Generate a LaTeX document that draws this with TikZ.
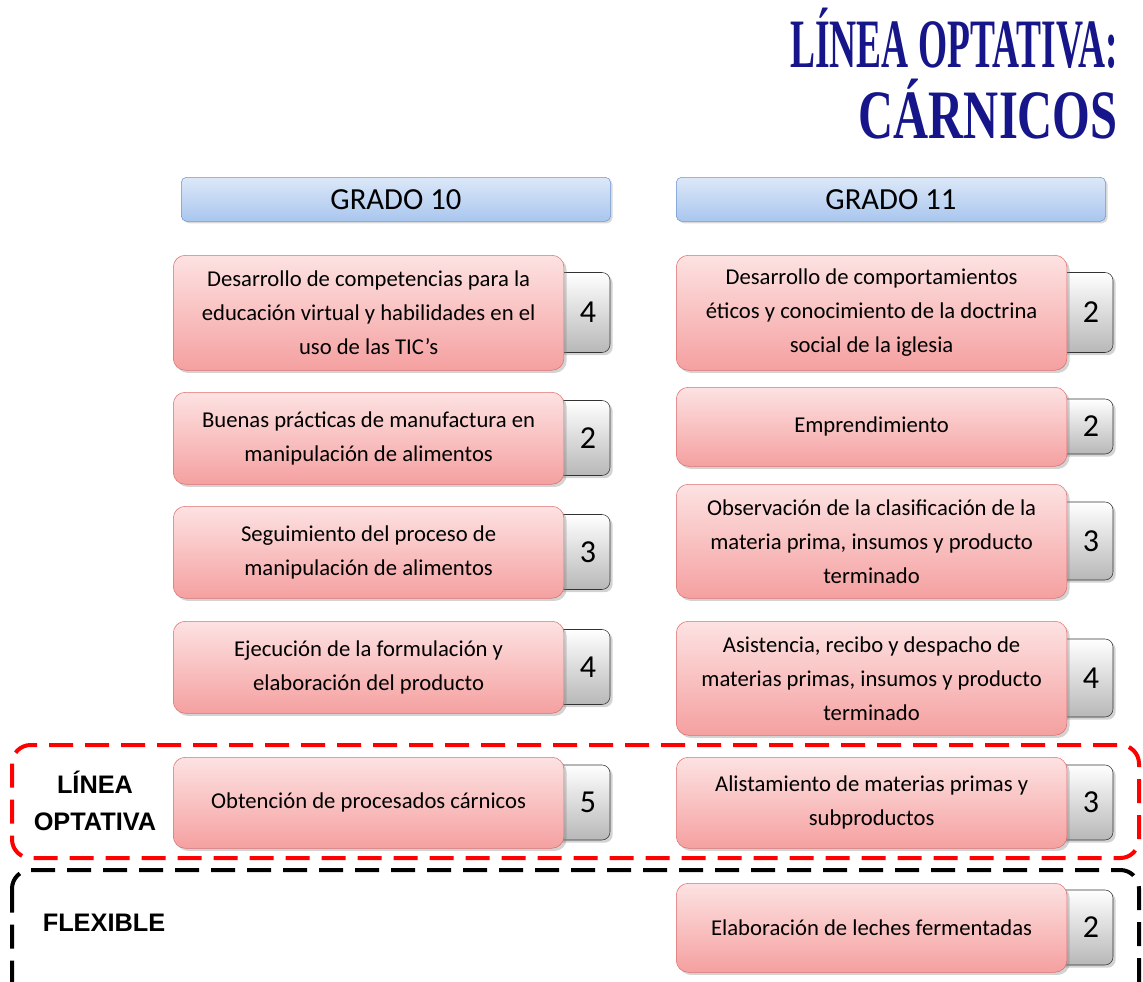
\documentclass[tikz,border=0pt]{standalone}
\usepackage{fontspec}
\setmainfont{Carlito}
\newfontfamily\titulofont{Liberation Serif}
\newfontfamily\zonafont{Liberation Sans}
\usetikzlibrary{shadows}

\definecolor{azultitulo}{HTML}{16168A}
\definecolor{gradoborde}{HTML}{6E96CF}
\definecolor{gradoarriba}{HTML}{DCE8F8}
\definecolor{gradoabajo}{HTML}{A9C6EE}
\definecolor{rosaborde}{HTML}{DC7070}
\definecolor{rosaarriba}{HTML}{FDE2E2}
\definecolor{rosaabajo}{HTML}{F5A0A0}

\tikzset{
  grado/.style={draw=gradoborde, rounded corners=4pt, top color=gradoarriba, bottom color=gradoabajo,
    minimum width=322pt, minimum height=33pt, anchor=north west, drop shadow={opacity=0.3, shadow xshift=1.5pt, shadow yshift=-1.5pt},
    font=\fontsize{23}{26}\selectfont},
  curso/.style={draw=rosaborde, rounded corners=9pt, top color=rosaarriba, bottom color=rosaabajo,
    minimum width=293pt, align=center, anchor=north west,
    drop shadow={opacity=0.35, shadow xshift=2pt, shadow yshift=-2pt},
    font=\fontsize{17}{25.5}\selectfont},
  horas/.style={draw=black!80, rounded corners=6pt, top color=white, bottom color=black!28,
    drop shadow={opacity=0.35, shadow xshift=2pt, shadow yshift=-2pt}},
  numero/.style={font=\fontsize{24}{27}\selectfont},
  zona/.style={line width=3pt, rounded corners=14pt, dash pattern=on 18pt off 9pt},
  rotulo/.style={font=\zonafont\bfseries\fontsize{19}{28}\selectfont, align=center}
}

% nombre (x,y arriba-izq) (alto, alto gris) texto horas
\def\curso(#1)(#2,#3)(#4,#5)#6#7{%
  \path[horas] ({#2+371},{#3+#4/2-#5/2}) rectangle ({#2+437},{#3+#4/2+#5/2});
  \node[curso, minimum height=#4*0.75pt] (#1) at (#2,#3) {#6};
  \node[numero] (#1n) at ({#2+415},{#3+#4/2}) {#7};
}

\begin{document}
\begin{tikzpicture}[x=0.75pt,y=-0.75pt]
  \useasboundingbox (0,0) rectangle (1143,982);

  %%%%% TITULO %%%%%
  \node[anchor=base east, text=azultitulo, inner sep=0pt, font=\titulofont\bfseries\fontsize{52}{56}\selectfont]
    (titulo1) at (1118,67) {\scalebox{0.54}[1]{LÍNEA OPTATIVA:}};
  \node[anchor=base east, text=azultitulo, inner sep=0pt, font=\titulofont\bfseries\fontsize{52}{56}\selectfont]
    (titulo2) at (1118,138) {\scalebox{0.70}[1]{CÁRNICOS}};

  %%%%% ZONAS %%%%%
  \draw[zona, red] (12,745) rectangle (1139,858);
  \draw[zona, black] (12,870) rectangle (1139,1010);
  \node[rotulo] (optativa) at (95,801) {LÍNEA\\OPTATIVA};
  \node[rotulo] (flexible) at (104,923) {FLEXIBLE};

  %%%%% GRADOS %%%%%
  \node[grado] (grado10) at (181,177) {GRADO 10};
  \node[grado] (grado11) at (676,177) {GRADO 11};

  %%%%% GRADO 10 %%%%%
  \curso(c1)(173,255)(115,80){Desarrollo de competencias para la\\educación virtual y habilidades en el\\uso de las TIC’s}{4}
  \curso(c2)(173,392)(92,75){Buenas prácticas de manufactura en\\manipulación de alimentos}{2}
  \curso(c3)(173,506)(92,75){Seguimiento del proceso de\\manipulación de alimentos}{3}
  \curso(c4)(173,621)(92,75){Ejecución de la formulación y\\elaboración del producto}{4}
  \curso(c5)(173,757)(91,75){Obtención de procesados cárnicos}{5}

  %%%%% GRADO 11 %%%%%
  \curso(d1)(676,255)(115,80){Desarrollo de comportamientos\\éticos y conocimiento de la doctrina\\social de la iglesia}{2}
  \curso(d2)(676,387)(79,55){Emprendimiento}{2}
  \curso(d3)(676,484)(114,78){Observación de la clasificación de la\\materia prima, insumos y producto\\terminado}{3}
  \curso(d4)(676,621)(114,78){Asistencia, recibo y despacho de\\materias primas, insumos y producto\\terminado}{4}
  \curso(d5)(676,757)(91,75){Alistamiento de materias primas y\\subproductos}{3}
  \curso(d6)(676,883)(89,75){Elaboración de leches fermentadas}{2}
\end{tikzpicture}
\end{document}
